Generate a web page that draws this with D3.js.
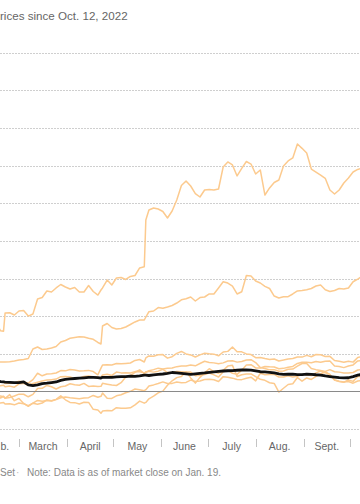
<!DOCTYPE html>
<html><head><meta charset="utf-8">
<script src="https://cdn.jsdelivr.net/npm/d3@7"></script>
<style>
html,body{margin:0;padding:0;background:#fff;}
svg{display:block;font-family:"Liberation Sans",Arial,sans-serif;}
</style></head><body>
<svg id="chart" width="360" height="504"></svg>
<script>
const dates = ["2023-02-14","2023-02-17","2023-02-19","2023-02-20","2023-02-23","2023-02-26","2023-03-01","2023-03-04","2023-03-07","2023-03-10","2023-03-13","2023-03-16","2023-03-19","2023-03-22","2023-03-25","2023-03-28","2023-03-31","2023-04-03","2023-04-06","2023-04-09","2023-04-12","2023-04-15","2023-04-18","2023-04-21","2023-04-23","2023-04-24","2023-04-27","2023-04-30","2023-05-03","2023-05-06","2023-05-09","2023-05-12","2023-05-15","2023-05-18","2023-05-21","2023-05-22","2023-05-24","2023-05-27","2023-05-30","2023-06-02","2023-06-05","2023-06-08","2023-06-11","2023-06-14","2023-06-17","2023-06-20","2023-06-23","2023-06-26","2023-06-29","2023-07-02","2023-07-05","2023-07-08","2023-07-11","2023-07-14","2023-07-17","2023-07-20","2023-07-23","2023-07-26","2023-07-29","2023-08-01","2023-08-04","2023-08-07","2023-08-10","2023-08-13","2023-08-16","2023-08-19","2023-08-22","2023-08-25","2023-08-28","2023-08-31","2023-09-03","2023-09-06","2023-09-09","2023-09-12","2023-09-15","2023-09-18","2023-09-21","2023-09-24","2023-09-27","2023-09-30","2023-10-03","2023-10-06","2023-10-09"];

// Percent change in price since Oct. 12, 2022
const nvidia = [92,80.6,80,104,104.5,101.5,106.8,107.4,100,102.8,122.7,124.7,133.4,132,137.4,142,138.7,136,138,132,132,140.7,132.7,128,134.7,137.4,148,141.4,150.7,151.3,148.7,152.7,154,164,165.7,227.8,241.1,243.7,242.4,239.1,230.5,239.8,254.4,273.7,279.7,273,263,258.4,267.7,268.4,267.7,269,298.3,305,301,286.4,296.5,305.6,302.2,289,294.3,261,270.4,277.7,281,299.6,306.3,310.3,328.9,323.1,316.9,295.6,291.6,287.6,283.2,267.7,262.4,267.7,277,283.6,291.6,295,297];
const meta = [39,39,39,39,39.4,40.3,41.6,42.3,43.6,56.3,58.9,55.6,56.3,57.6,59.6,65.6,67.6,70.5,71.5,72.5,72.2,70.5,69.1,64.9,62.9,86.8,90.2,84.8,82.8,83.5,85.5,88.8,92.2,94.8,94.8,98.8,105.9,106.8,111.4,110.4,112.1,114.1,117.4,121.7,123.1,125.4,120.1,124.7,125.4,129.4,129.4,137.4,145.7,144,140,129.4,132.4,154,153.3,146.7,144,139.6,136.7,126.7,124.1,125.8,125.8,129.4,133.4,134,135,136.7,140,141.4,135,132.7,134,136.7,136,137.4,145.7,149.3,153.3];
const microsoft = [13,11.9,13,10.3,10.8,11.2,13.4,12.4,11,15.5,24,20.6,23,23.3,24.3,27.5,27.2,29,28.2,27,27.3,27.8,26.2,22,30.8,35,35.4,35,37,36.5,37,37.6,41,42.3,39,44.4,47,46.5,48.6,48.8,44.1,46,50.5,53,49.7,48.4,45.6,48.4,50.5,49.8,49.4,47.2,52.3,53.1,59,52.6,52.5,49.7,48.8,44.7,45,43.5,42.4,43,40.3,41.5,43,43.5,45.5,45.5,47.8,46,49,48.5,46.3,46.5,41,40,38.5,39.9,38.8,45,46];
const apple = [9,7.3,8,6,6.9,5.5,10,10.5,8,10.3,12,13.8,14.9,15.5,16.2,19.5,19.7,19,17.1,17.5,19.8,20.2,19.3,18.7,18.4,21.7,22.6,21.1,25.6,24.5,24.6,24.4,26.2,25.9,24.5,25,27.3,28.8,30.8,29.8,30.6,31,32.8,33.7,33.7,35,33.9,37,40,38.3,37.8,36.5,37.8,40.2,40.6,38.8,39.7,41.5,42,38.2,31.6,30.3,28.5,28.8,26.6,27,29.3,29.5,33.5,37,37.1,30.3,28.8,27.6,26.5,28.8,26,25.5,24.4,24.2,25,28.3,29];
const alphabet = [-5,-6.3,-7.2,-9.1,-8.3,-6.2,-3.8,-3.9,-7.3,-4.1,3.7,4,7.8,6,3,6,7,10,8.6,8,10.5,6.4,7,6.5,6.6,10.6,9.4,8.3,7.7,11.5,19,21,25.3,28.5,23.4,26,26.5,25.5,26.8,29.2,25,25,26.2,26,25.6,25.5,20.7,21.5,22.2,24.3,21.9,19,26,27.7,24,22.5,28,35,35.4,31.1,31,33,32.5,32.4,30,30.5,32,33,37,38.5,38.6,38,39.5,38.5,40,40.4,33.5,33,31.5,33.6,35.1,40.4,40.6];
const amazon = [-15.8,-15.6,-14.9,-16.9,-16.6,-18,-15.5,-16.6,-19,-15.7,-12.1,-13.2,-12.3,-13,-10.9,-8.5,-7.6,-8.5,-9.2,-10,-9,-8.5,-5.5,-8,-6.7,-2.4,-9.3,-9.5,-6,-4.5,-2,0,3,2.2,0.8,2.2,7,8.5,10.4,12.5,10.4,10.5,12.3,11.5,11.8,14.9,13.1,13.7,15.8,15.9,15.3,13,19.5,18.7,17.5,15.8,15.5,17.3,18.8,13.9,24,22,22.5,22.5,19,19,20.5,19,20,22.5,22,21,24.5,27,24.6,22.5,14.9,13.5,12.5,13,10.8,13.7,14.5];
const tesla = [-6.5,-8.9,-6.6,-9.3,-4.4,-12.5,-9.5,-16.2,-20,-15.8,-17.1,-15.6,-11.5,-12.5,-10.7,-6,-11.3,-14.8,-15.1,-16.9,-14.5,-14.8,-24,-25,-29.2,-26.3,-25.5,-26,-21.8,-22.5,-22.7,-22,-18,-13,-15.8,-14.8,-10,-6.5,-2,0.2,8.1,14,18.2,19.7,26.1,17.8,10.9,18.5,24.5,30,26.1,24.1,28,33.5,34.5,19.7,22,22.9,23.1,19.4,16,14.6,11.4,10.4,-1,4,9,10,18.3,13.5,17.8,15.8,20,23,26,22.1,15,13,12,15.1,13.2,19.7,20];
const sp500 = [15,12.8,12.5,12.3,12,11.6,11.5,12.6,8.6,7.6,8.6,10.3,10.8,11.6,12.4,14.6,15.8,16.6,17,17.5,17.9,18.4,18.5,18.2,17.6,18.6,18.4,18.4,19.2,19.4,19.6,20.2,19.8,20.4,21.4,21.6,21,21.8,22.4,23,23.8,25,24.6,23.9,23.2,22.6,23.2,23.9,24.4,25.1,25.8,26.6,27,27.3,27.6,28,28.3,28.3,28.1,27.2,26,25.8,25.3,24.4,23.2,22.6,22.7,22.8,22.2,22.3,22.8,22.6,22,21.6,20.4,19.6,18.8,18.1,17.8,18,19.6,21.5,22.5];

const monthStarts = ["2023-02-01","2023-03-01","2023-04-01","2023-05-01","2023-06-01","2023-07-01","2023-08-01","2023-09-01","2023-10-01","2023-11-01"];
// first label is the visible tail of "Feb." at the cropped left edge
const monthLabels = ["b.","March","April","May","June","July","Aug.","Sept."];
const yTicks = [-50,0,50,100,150,200,250,300,350,400,450];
const titleText = "rices since Oct. 12, 2022";
const sourceText = "Set";
const noteText = "Note: Data is as of market close on Jan. 19.";

const parse = d3.timeParse("%Y-%m-%d");
const svg = d3.select("#chart");
const x = d3.scaleTime().domain([parse("2023-03-01"), parse("2023-10-01")]).range([19, 350]);
const y = d3.scaleLinear().domain([-50, 450]).range([428.9, 52.9]);

// gridlines
svg.append("g").selectAll("line").data(yTicks.filter(v => v !== 0)).join("line")
  .attr("x1", 0).attr("x2", 360)
  .attr("y1", d => Math.round(y(d)) + 0.5).attr("y2", d => Math.round(y(d)) + 0.5)
  .attr("stroke", "#cfcfcf").attr("stroke-width", 1).attr("stroke-dasharray", "2,1");

const line = d3.line().x((d, i) => x(parse(dates[i]))).y(d => y(d)).curve(d3.curveLinear);

const stocks = [tesla, amazon, alphabet, apple, microsoft, meta, nvidia];
svg.append("g").selectAll("path").data(stocks).join("path")
  .attr("d", d => line(d))
  .attr("fill", "none").attr("stroke", "#fcca8e").attr("stroke-width", 1.5)
  .attr("stroke-linejoin", "round");

// zero baseline
svg.append("line").attr("x1", 0).attr("x2", 360)
  .attr("y1", Math.round(y(0)) + 0.5).attr("y2", Math.round(y(0)) + 0.5)
  .attr("stroke", "#8a8a8a").attr("stroke-width", 1);

svg.append("path").attr("d", line(sp500))
  .attr("fill", "none").attr("stroke", "#111").attr("stroke-width", 2.8)
  .attr("stroke-linejoin", "round");

// x axis: month separators and centered labels
const ms = monthStarts.map(parse);
svg.append("g").selectAll("line").data(ms).join("line")
  .attr("x1", d => Math.round(x(d)) + 0.5).attr("x2", d => Math.round(x(d)) + 0.5)
  .attr("y1", 439).attr("y2", 447)
  .attr("stroke", "#c4c4c4").attr("stroke-width", 1);
svg.append("g").selectAll("text").data(monthLabels).join("text")
  .attr("x", (d, i) => i === 0 ? 0.5 : (x(ms[i]) + x(ms[i + 1])) / 2)
  .attr("y", 449.5)
  .attr("text-anchor", (d, i) => i === 0 ? "start" : "middle")
  .attr("font-size", 10.5).attr("fill", "#666")
  .text(d => d);

// header and footer
svg.append("text").attr("x", 0).attr("y", 20)
  .attr("font-size", 11.6).attr("fill", "#666").text(titleText);
svg.append("text").attr("x", 0).attr("y", 476)
  .attr("font-size", 10).attr("fill", "#888").text(sourceText);
svg.append("text").attr("x", 16).attr("y", 476)
  .attr("font-size", 10).attr("fill", "#bbb").text("·");
svg.append("text").attr("x", 27).attr("y", 476)
  .attr("font-size", 10).attr("fill", "#888").text(noteText);
</script>
</body></html>
